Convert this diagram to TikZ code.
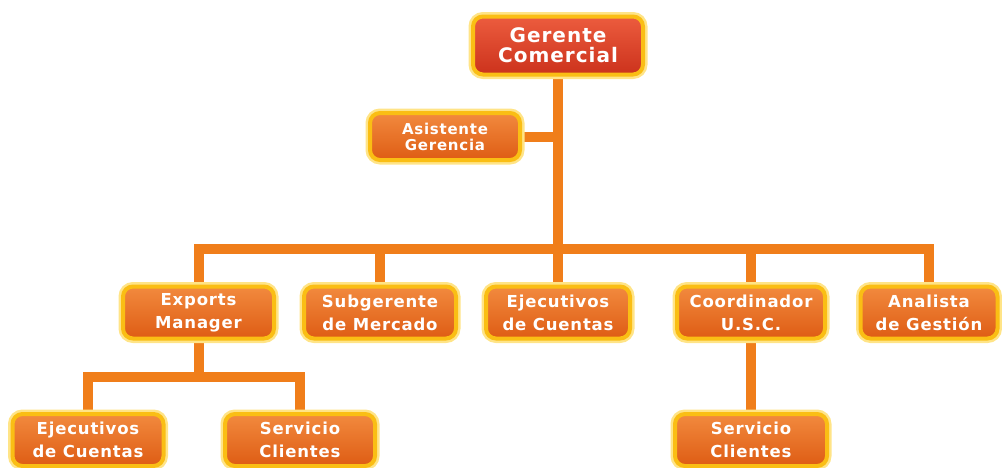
\documentclass[tikz,border=0pt]{standalone}
\usepackage{fontspec}
\newfontfamily\lbl[LetterSpace=5]{DejaVu Sans}
\usetikzlibrary{backgrounds}
\definecolor{orgTop}{RGB}{242,138,62}
\definecolor{orgBot}{RGB}{222,92,20}
\definecolor{redTop}{RGB}{236,92,62}
\definecolor{redBot}{RGB}{204,50,28}
\definecolor{rim}{RGB}{250,190,20}
\definecolor{glow}{RGB}{255,228,135}
\definecolor{conncol}{RGB}{240,126,26}
\tikzset{
  box/.style={rounded corners=10pt, draw=rim, line width=4pt,
    top color=orgTop, bottom color=orgBot, text=white, align=center,
    inner sep=0pt, minimum height=52pt,
    font=\lbl\bfseries\fontsize{16.5}{23}\selectfont,
    preaction={draw=glow, line width=9pt}},
  topbox/.style={box, top color=redTop, bottom color=redBot,
    font=\lbl\bfseries\fontsize{20}{20}\selectfont},
  asibox/.style={box, font=\lbl\bfseries\fontsize{15}{16}\selectfont},
  conn/.style={draw=conncol, line width=10pt, line join=miter}
}
\begin{document}
\begin{tikzpicture}[x=1pt,y=-1pt]
\useasboundingbox (0,0) rectangle (1002,467);
\node[topbox, minimum width=170pt, minimum height=58pt] (ger) at (558,45.5) {Gerente\\Comercial};
\node[asibox, minimum width=150pt, minimum height=47pt] (asi) at (445,136.5) {Asistente\\Gerencia};
\node[box, minimum width=151pt] (exp) at (198.5,312.5) {Exports\\Manager};
\node[box, minimum width=152pt] (sub) at (380,312.5) {Subgerente\\de Mercado};
\node[box, minimum width=144pt] (eje) at (558,312.5) {Ejecutivos\\de Cuentas};
\node[box, minimum width=148pt] (coo) at (751,312.5) {Coordinador\\U.S.C.};
\node[box, minimum width=137pt] (ana) at (929,312.5) {Analista\\de Gestión};
\node[box, minimum width=151pt] (ejb) at (88,440) {Ejecutivos\\de Cuentas};
\node[box, minimum width=150pt] (sl) at (300,440) {Servicio\\Clientes};
\node[box, minimum width=152pt] (sr) at (751,440) {Servicio\\Clientes};
\coordinate (bus) at (0,249);
\coordinate (bus2) at (0,377);
\begin{scope}[on background layer]
\draw[conn] (ger.south) -- (ger.south |- bus);
\draw[conn] (asi.east) -- (asi.east -| ger.south);
\draw[conn] (exp.north) -- (exp.north |- bus) -- (ana.north |- bus) -- (ana.north);
\draw[conn] (sub.north) -- (sub.north |- bus);
\draw[conn] (eje.north) -- (eje.north |- bus);
\draw[conn] (coo.north) -- (coo.north |- bus);
\draw[conn] (exp.south) -- (exp.south |- bus2);
\draw[conn] (ejb.north) -- (ejb.north |- bus2) -- (sl.north |- bus2) -- (sl.north);
\draw[conn] (coo.south) -- (sr.north);
\end{scope}
\end{tikzpicture}
\end{document}
